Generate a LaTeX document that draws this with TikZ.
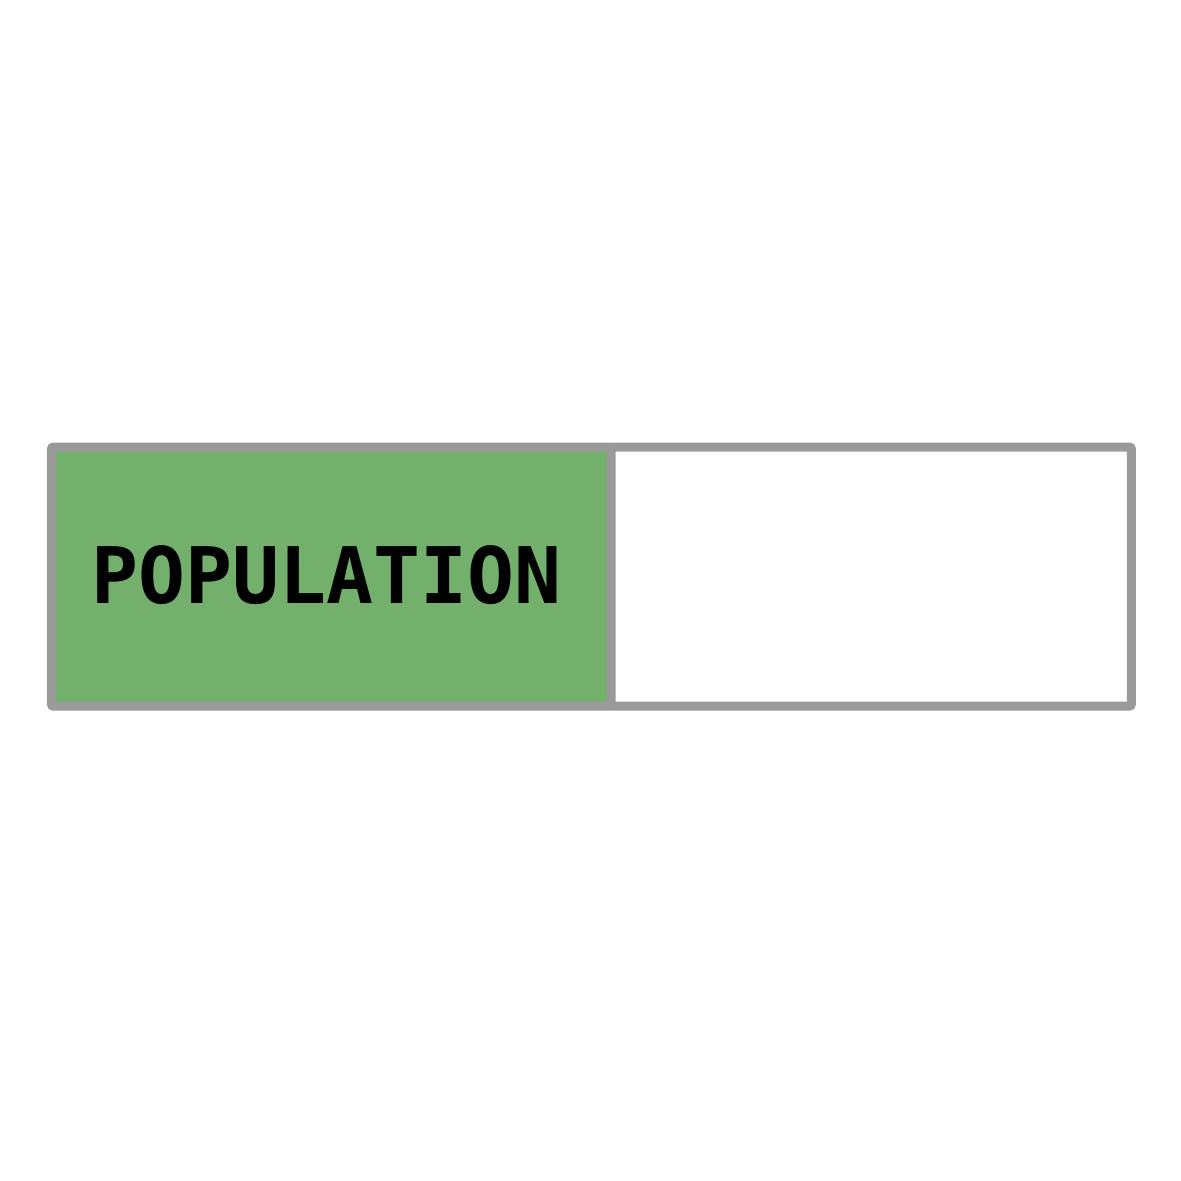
\documentclass[tikz,border=0pt]{standalone}
\usepackage{fontspec}
\newfontfamily\pixfont{DejaVu Sans Mono}
\definecolor{cellgreen}{HTML}{72B06C}
\definecolor{cellgray}{HTML}{9A9A9A}
\begin{document}
\begin{tikzpicture}[x=0.01cm,y=-0.01cm,
  cell/.style={draw=cellgray, line width=0.09cm, rounded corners=0.02cm, inner sep=0pt, outer sep=0pt, anchor=north west, minimum height=2.59cm},
  labeltext/.style={font=\pixfont\bfseries\fontsize{22.2}{22.2}\selectfont, text=black, inner sep=0pt}]
\useasboundingbox (0,0) rectangle (1181,1181);
\node[cell, fill=cellgreen, minimum width=5.595cm] (pop) at (51.5,447) {};
\node[cell, fill=white, minimum width=5.2cm] (empty) at (611,447) {};
\node[labeltext] (label) at (326.5,575.5) {POPULATION};
\end{tikzpicture}
\end{document}
